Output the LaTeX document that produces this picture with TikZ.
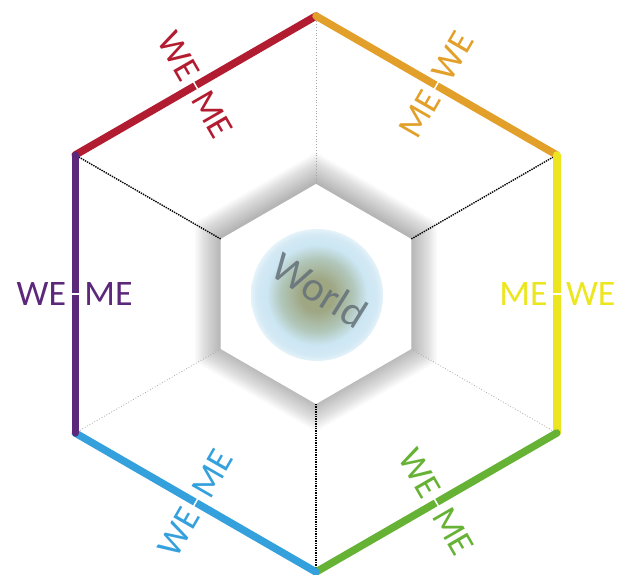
\documentclass[tikz,border=0pt]{standalone}
\usepackage{fontspec}
\setmainfont{Carlito}
\definecolor{weRed}{RGB}{178,28,48}
\definecolor{meOrange}{RGB}{226,160,42}
\definecolor{meYellow}{RGB}{236,230,32}
\definecolor{weGreen}{RGB}{102,178,52}
\definecolor{weBlue}{RGB}{52,160,220}
\definecolor{wePurple}{RGB}{92,40,122}
\definecolor{globeCore}{RGB}{158,166,130}
\definecolor{globeMid}{RGB}{178,200,188}
\definecolor{globeSky}{RGB}{204,230,243}
\definecolor{worldInk}{RGB}{100,112,120}
\pgfdeclareradialshading{globeshade}{\pgfpoint{0bp}{0bp}}{color(0bp)=(globeCore); color(6bp)=(globeCore); color(14bp)=(globeMid); color(19bp)=(globeSky); color(23bp)=(globeSky!85!white); color(25bp)=(globeSky!50!white); color(50bp)=(white)}
\tikzset{
  edge/.style={draw=#1, line width=7.5, line cap=round},
  wme/.style={text=#1, inner xsep=9bp, inner ysep=0pt},
  spokedark/.style={black, line width=1.4, densely dotted},
  spokelight/.style={black!35, line width=0.8, dotted},
}
\begin{document}
\begin{tikzpicture}[x=1bp,y=1bp, every node/.style={font=\fontsize{36}{36}\selectfont}]
\useasboundingbox (0,0) rectangle (618,575);
\begin{scope}[shift={(316,281)}]
\coordinate (oT) at (90:278);
\coordinate (oUR) at (30:278);
\coordinate (oLR) at (-30:278);
\coordinate (oB) at (-90:278);
\coordinate (oLL) at (-150:278);
\coordinate (oUL) at (150:278);
\coordinate (iT) at (90:110);
\coordinate (iUR) at (30:110);
\coordinate (iLR) at (-30:110);
\coordinate (iB) at (-90:110);
\coordinate (iLL) at (-150:110);
\coordinate (iUL) at (150:110);
\coordinate (mRed) at (120:240.8);
\coordinate (mOrange) at (60:240.8);
\coordinate (mYellow) at (0:240.8);
\coordinate (mGreen) at (-60:240.8);
\coordinate (mBlue) at (-120:240.8);
\coordinate (mPurple) at (180:240.8);
\coordinate (gC) at (1,-1);
% glow round the inner hexagon
\foreach \k in {1,...,22}{
  \pgfmathsetmacro\r{109+1.4*\k}
  \fill[black,opacity=0.016,yshift=2] (90:\r) -- (30:\r) -- (-30:\r) -- (-90:\r) -- (-150:\r) -- (150:\r) -- cycle;
}
\draw[spokelight] (iT) -- (oT);
\draw[spokedark] (iUR) -- (oUR);
\draw[spokelight] (iLR) -- (oLR);
\draw[spokedark] (iB) -- (oB);
\draw[spokelight] (iLL) -- (oLL);
\draw[spokedark] (iUL) -- (oUL);
\fill[white] (iT) -- (iUR) -- (iLR) -- (iB) -- (iLL) -- (iUL) -- cycle;
\shade[shading=globeshade] (gC) circle (66);
\node[text=worldInk, text opacity=0.85, rotate=-32, font=\fontsize{42}{42}\selectfont] (world) at (4,4) {World};
% outer ring
\draw[edge=weRed] (oUL) -- (oT);
\draw[edge=meOrange] (oT) -- (oUR);
\draw[edge=meYellow] (oUR) -- (oLR);
\draw[edge=weGreen] (oLR) -- (oB);
\draw[edge=weBlue] (oB) -- (oLL);
\draw[edge=wePurple] (oLL) -- (oUL);
\draw[white, line width=1.5] ([shift={(-60:6)}]mRed) -- ([shift={(120:6)}]mRed);
\draw[white, line width=1.5] ([shift={(60:6)}]mOrange) -- ([shift={(-120:6)}]mOrange);
\draw[white, line width=1.5] ([shift={(0:6)}]mYellow) -- ([shift={(180:6)}]mYellow);
\draw[white, line width=1.5] ([shift={(-60:6)}]mGreen) -- ([shift={(120:6)}]mGreen);
\draw[white, line width=1.5] ([shift={(60:6)}]mBlue) -- ([shift={(-120:6)}]mBlue);
\draw[white, line width=1.5] ([shift={(0:6)}]mPurple) -- ([shift={(180:6)}]mPurple);
% labels
\node[wme=weRed, rotate=-60, anchor=east] (weRed) at (mRed) {WE};
\node[wme=weRed, rotate=-60, anchor=west] (meRed) at (mRed) {ME};
\node[wme=meOrange, rotate=60, anchor=east] (meOrange) at (mOrange) {ME};
\node[wme=meOrange, rotate=60, anchor=west] (weOrange) at (mOrange) {WE};
\node[wme=meYellow, anchor=east] (meYellow) at (mYellow) {ME};
\node[wme=meYellow, anchor=west] (weYellow) at (mYellow) {WE};
\node[wme=weGreen, rotate=-60, anchor=east] (weGreen) at (mGreen) {WE};
\node[wme=weGreen, rotate=-60, anchor=west] (meGreen) at (mGreen) {ME};
\node[wme=weBlue, rotate=60, anchor=east] (weBlue) at (mBlue) {WE};
\node[wme=weBlue, rotate=60, anchor=west] (meBlue) at (mBlue) {ME};
\node[wme=wePurple, anchor=east] (wePurple) at (mPurple) {WE};
\node[wme=wePurple, anchor=west] (mePurple) at (mPurple) {ME};
\end{scope}
\end{tikzpicture}
\end{document}
